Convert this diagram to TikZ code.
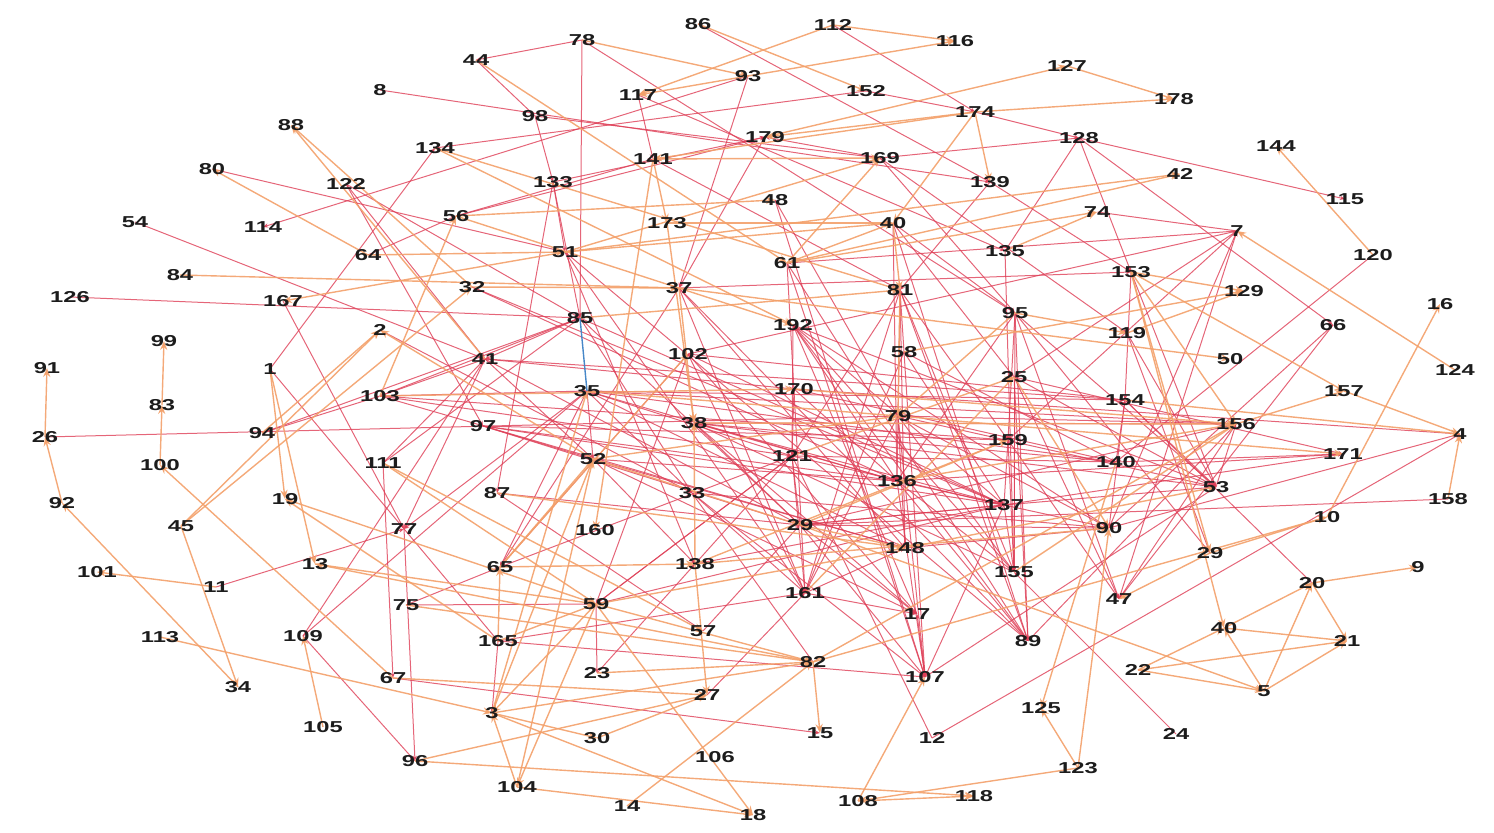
\documentclass[tikz,border=0pt]{standalone}
\usepackage{fontspec}
\setmainfont{Liberation Sans}
\usepackage{graphicx}
\usetikzlibrary{arrows.meta}
\definecolor{oc}{RGB}{243,160,106}
\definecolor{rc}{RGB}{222,62,86}
\definecolor{bc}{RGB}{70,135,200}
\definecolor{tc}{RGB}{28,28,28}
\newcommand\sx[1]{\scalebox{1.5}[1]{#1}}
\pgfdeclarelayer{bg}
\pgfsetlayers{bg,main}
\tikzset{
  lbl/.style={inner sep=0pt, text=tc, font=\fontsize{7.9}{8}\selectfont\bfseries},
  oe/.style={draw=oc, line width=0.7pt, opacity=0.9, -{Stealth[length=4.5pt,width=3.6pt]}},
  re/.style={draw=rc, line width=0.5pt, opacity=0.8, -{Stealth[length=2.6pt,width=2.2pt]}},
  be/.style={draw=bc, line width=0.7pt}
}
\begin{document}
\begin{tikzpicture}[x=0.5pt,y=-0.5pt]
\useasboundingbox (0,0) rectangle (1494,833);
\foreach \k/\x/\y in {78/582/40,86/698/24,112/833/25,116/955/41,44/476/60,93/748/76,127/1067/66,178/1174/99,8/380/90,117/638/95,152/866/91,98/535/116,174/975/112,88/291/125,179/765/137,128/1079/138,144/1276/146,134/435/148,141/653/159,169/880/158,80/212/169,122/346/184,133/553/182,139/990/182,42/1180/174,115/1345/199,48/775/200,54/135/222,114/263/227,56/456/216,173/667/223,40/893/223,74/1097/212,7/1237/231,135/1005/251,64/368/255,51/565/252,61/787/263,153/1131/272,120/1373/255,84/180/275,32/472/287,37/679/288,81/900/290,129/1244/291,126/70/297,167/283/301,85/580/318,192/793/325,95/1015/313,16/1440/304,2/380/330,66/1333/325,119/1127/333,99/164/341,102/688/354,58/904/352,50/1230/359,91/47/368,1/270/369,41/485/359,124/1455/370,25/1014/377,170/794/389,35/587/391,103/380/396,157/1344/391,154/1125/400,83/162/405,79/898/416,38/694/423,97/483/426,156/1236/424,26/45/437,94/262/433,4/1460/434,159/1008/440,171/1343/454,100/160/465,111/383/463,52/593/459,121/792/456,140/1116/462,136/897/481,33/692/493,87/497/493,53/1216/487,158/1448/499,92/62/503,19/285/499,45/181/526,77/404/529,160/595/530,29/800/525,137/1004/505,90/1109/528,10/1327/517,148/905/548,13/315/564,65/500/567,138/695/564,155/1014/572,9/1418/567,101/97/572,11/216/587,161/805/593,20/1312/583,47/1119/599,75/406/605,59/596/604,17/917/614,113/160/637,109/303/636,57/703/631,165/498/641,89/1028/641,21/1347/641,22/1138/670,82/813/662,67/393/678,23/597/673,107/925/677,34/238/687,5/1264/691,27/707/695,3/492/713,125/1041/708,105/323/727,30/597/738,15/820/733,12/932/738,24/1176/734,96/415/761,106/715/757,123/1078/768,104/517/787,118/974/796,108/858/801,14/627/806,18/753/815}
  \node[lbl] (n\k) at (\x,\y) {\sx{\k}};
\node[lbl] (n29b) at (1210,553) {\sx{29}};
\node[lbl] (n40b) at (1224,628) {\sx{40}};
\begin{pgfonlayer}{bg}
\foreach \a/\b in {78/44,78/85,44/98,98/133,8/139,98/169,117/141,117/135,112/174,93/37,93/114,86/139,152/174,174/128,152/134,179/37,56/179,133/179,133/51,133/85,133/87,141/81,56/141,64/56,1/134,54/41,80/51,126/85,167/77,1/165,122/41,122/97,122/85,26/79,94/103,11/77,109/41,109/35,109/96,111/67,77/96,67/15,27/161,23/138,165/161,75/59,75/65,169/128,169/179,169/119,169/95,139/81,139/153,48/79,40/25,40/95,135/128,135/155,128/153,128/115,128/66,120/140,7/74,7/61,7/102,7/159,7/90,66/47,66/90,140/171,53/156,4/90,12/4,107/53,158/29,47/7,24/155,89/156,82/33,12/121,107/17,107/81,107/33,78/95,153/154,59/23,165/3,85/103,85/41,85/33,85/29,35/65,35/77,35/33,35/136,35/148,35/52,41/52,41/29,41/77,41/103,97/52,97/136,94/85,81/136,81/148,81/159,81/89,81/155,81/121,81/161,192/136,192/155,192/89,192/121,192/53,95/159,95/155,95/89,95/136,170/121,170/136,121/29,121/59,136/89,136/107,136/155,137/155,137/159,137/29,159/155,140/154,90/137,57/29,102/65,102/59,102/161,102/154,37/65,37/161,37/89,37/153,51/89,51/161,51/138,32/136,32/137,61/161,61/89,61/107,48/107,40/136,40/89,58/137,79/161,79/107,79/148,25/89,25/7,25/47,154/90,119/53,153/53,156/47,119/29b,154/53,156/79,156/38,53/137,171/137,33/161,38/136,38/29,38/155,138/121,161/121,29/107,161/148,136/137,52/136,52/138,97/159,111/41,111/85,17/192,154/20,29/156,103/35,35/154,35/156,35/140,38/53,38/140,97/137,103/159,41/154,33/90,138/137,59/137,165/107,79/155,79/53,79/90,192/137,192/90,102/137,37/148,85/137,103/148,159/47,25/155,25/53,58/161,136/171,29/137,29/90,121/137,95/53,95/47,95/29b,137/107,38/17,52/17,102/17,87/29,52/148,121/140,170/140,58/140,170/4,148/90,25/171,38/137,35/121,41/170,103/121,2/33,97/29,87/57,65/121,59/121,161/17,29/17}
  \draw[re] (n\a.center) -- (n\b.center);
\foreach \a/\b in {78/93,112/117,93/117,112/116,93/116,86/152,179/127,127/178,174/178,174/40,174/139,174/179,174/141,61/169,51/169,61/40,40/81,81/79,61/42,51/42,61/74,135/74,141/169,141/173,44/61,64/80,32/88,41/88,84/37,83/99,100/83,67/100,26/91,92/26,34/92,45/34,45/2,45/32,94/2,103/56,1/19,1/13,59/19,165/19,82/13,11/101,113/3,105/109,67/27,96/27,96/118,104/3,59/104,104/18,14/82,59/18,3/30,3/18,30/27,138/27,23/82,165/65,165/59,3/52,65/52,104/52,82/15,82/10,108/107,123/108,108/118,123/125,123/90,140/125,153/129,119/129,153/157,153/156,153/29b,153/40b,37/50,157/4,156/157,154/4,79/171,29b/10,10/16,158/4,20/9,22/40b,5/40b,40b/20,5/20,20/21,5/21,22/21,22/5,40b/21,29/5,29b/47,124/7,120/144,134/192,134/81,64/51,3/82,3/35,59/3,37/38,138/38,173/38,52/2,52/29,87/148,111/57,141/160,95/119,95/79,29/159,25/90,85/81,51/167,13/59,111/59,59/148,65/138,65/102,138/90,75/82,59/82,82/156,155/156,29/148,56/192,56/48,51/40,32/37,103/170,38/156,136/156,138/159,58/129,173/40,35/79,52/79,121/25,161/25,170/156,148/53}
  \draw[oe] (n\a.center) -- (n\b.center);
\draw[be] (n85.center) -- (n35.center);
\end{pgfonlayer}
\end{tikzpicture}
\end{document}
